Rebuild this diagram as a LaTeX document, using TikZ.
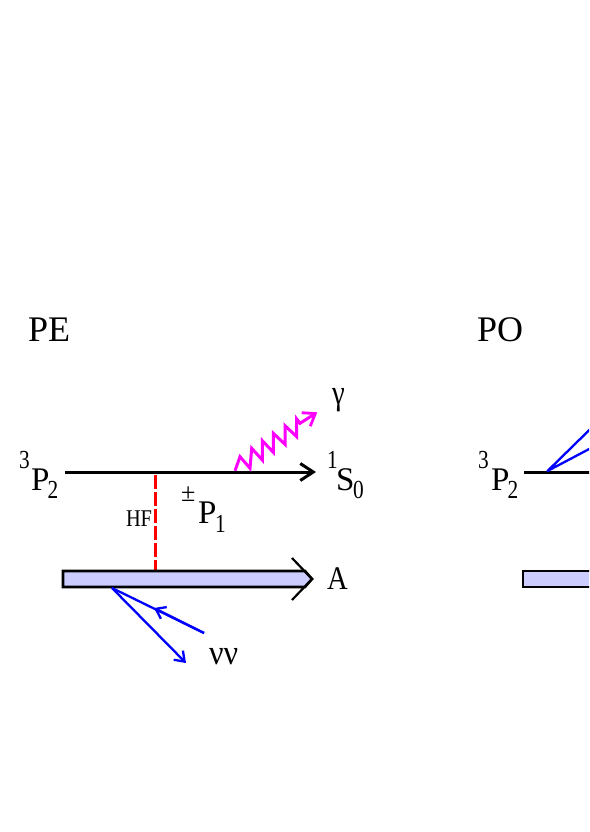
\documentclass[tikz,border=0pt]{standalone}
\usepackage{fontspec}
\setmainfont{Liberation Serif}
\usetikzlibrary{arrows.meta}
\newcommand{\fsz}[1]{\fontsize{#1pt}{#1pt}\selectfont}
\newcommand{\nar}[1]{\scalebox{0.82}[1]{#1}}
\tikzset{
  x=1pt,y=-1pt,
  title/.style={inner sep=0pt,outer sep=0pt,anchor=base west,font=\fsz{36}},
  lbl/.style={inner sep=0pt,outer sep=0pt,anchor=base west,font=\fsz{33}},
  small/.style={inner sep=0pt,outer sep=0pt,anchor=base west,font=\fsz{24}},
  sub/.style={inner sep=0pt,outer sep=0pt,anchor=base west,font=\fsz{26}},
  greek/.style={inner sep=0pt,outer sep=0pt,anchor=base west,font=\fsz{35}},
  level/.style={line width=3pt,black},
  bar/.style={line width=2.6pt,draw=black,fill=barfill,line join=miter},
  blueline/.style={line width=2.3pt,draw=nublue,line join=round},
  nuhead/.style={-{Straight Barb[length=9pt,width=13pt,line width=2.3pt]}},
}
\definecolor{barfill}{RGB}{204,204,255}
\definecolor{nublue}{RGB}{0,0,255}
\definecolor{mag}{RGB}{255,0,255}
\definecolor{hfred}{RGB}{255,0,0}
\begin{document}
\begin{tikzpicture}
\useasboundingbox (0,0) rectangle (589,832);
\clip (0,0) rectangle (589,832);
% left panel
\node[title] (pe) at (28,341) {PE};
\node[sub] (t3a) at (19,468) {\nar{3}};
\node[lbl] (pa) at (31,490) {P};
\node[sub] (pa2) at (47.5,498) {\nar{2}};
\coordinate (a0) at (65,472);
\coordinate (a1) at (316,472);
\draw[level,-{Straight Barb[length=13pt,width=17pt,line width=3pt]}] (a0) -- (a1);
\node[sub] (t1) at (327,468) {\nar{1}};
\node[lbl] (s0) at (336,490) {S};
\node[sub] (s00) at (353,498) {\nar{0}};
\coordinate (hf0) at (155.3,475);
\coordinate (hf1) at (155.3,571);
\draw[hfred,line width=2.8pt,dash pattern=on 13.5pt off 3.5pt] (hf0) -- (hf1);
\node[small] (hf) at (126,526) {\scalebox{0.85}[1]{HF}};
\node[sub] (pm) at (181,501) {±};
\node[lbl] (p1) at (198,523) {P};
\node[sub] (p11) at (215,532) {\nar{1}};
\node[greek] (gam) at (332,404) {\nar{γ}};
\node[lbl] (aa) at (327,589) {\scalebox{0.87}[1]{A}};
\node[greek] (nn) at (209,664) {\scalebox{0.92}[1]{νν}};
\draw[bar] (63,571) -- (305,571) -- (312,579) -- (305,587) -- (63,587) -- cycle;
\coordinate (b0) at (292,558);
\coordinate (b1) at (312,579);
\coordinate (b2) at (292,600);
\draw[line width=2.2pt] (b0) -- (b1) -- (b2);
\coordinate (n0) at (112,588);
\coordinate (n1) at (186,663);
\coordinate (n2) at (204,633);
\coordinate (n3) at (154,608);
\draw[blueline,nuhead] (n0) -- (n1);
\draw[blueline] (n0) -- (n2);
\draw[blueline,nuhead] (n2) -- (n3);
\draw[mag,line width=3pt,-{Straight Barb[length=11pt,width=16pt,line width=2.8pt]}]
 (235,470.7) -- (240,456.7) -- (250,468.3) -- (251.7,448.3) -- (262.3,460) -- (262.3,440.7) -- (273.3,452.3) -- (273.3,433.3) -- (285,444.3) -- (285,425.7) -- (296.7,436.7) -- (296.7,419) -- (300,423.3) -- (317.3,412.3);
% right panel
\node[title] (po) at (477,341) {PO};
\node[sub] (t3b) at (478,468) {\nar{3}};
\node[lbl] (pb) at (491,490) {P};
\node[sub] (pb2) at (507.5,498) {\nar{2}};
\coordinate (c0) at (524,472);
\coordinate (c1) at (600,472);
\draw[level] (c0) -- (c1);
\coordinate (d0) at (547.5,471);
\coordinate (d1) at (600,419.5);
\coordinate (d2) at (600,443.3);
\draw[blueline] (d1) -- (d0) -- (d2);
\draw[bar] (523,571) rectangle (600,587);
\end{tikzpicture}
\end{document}
